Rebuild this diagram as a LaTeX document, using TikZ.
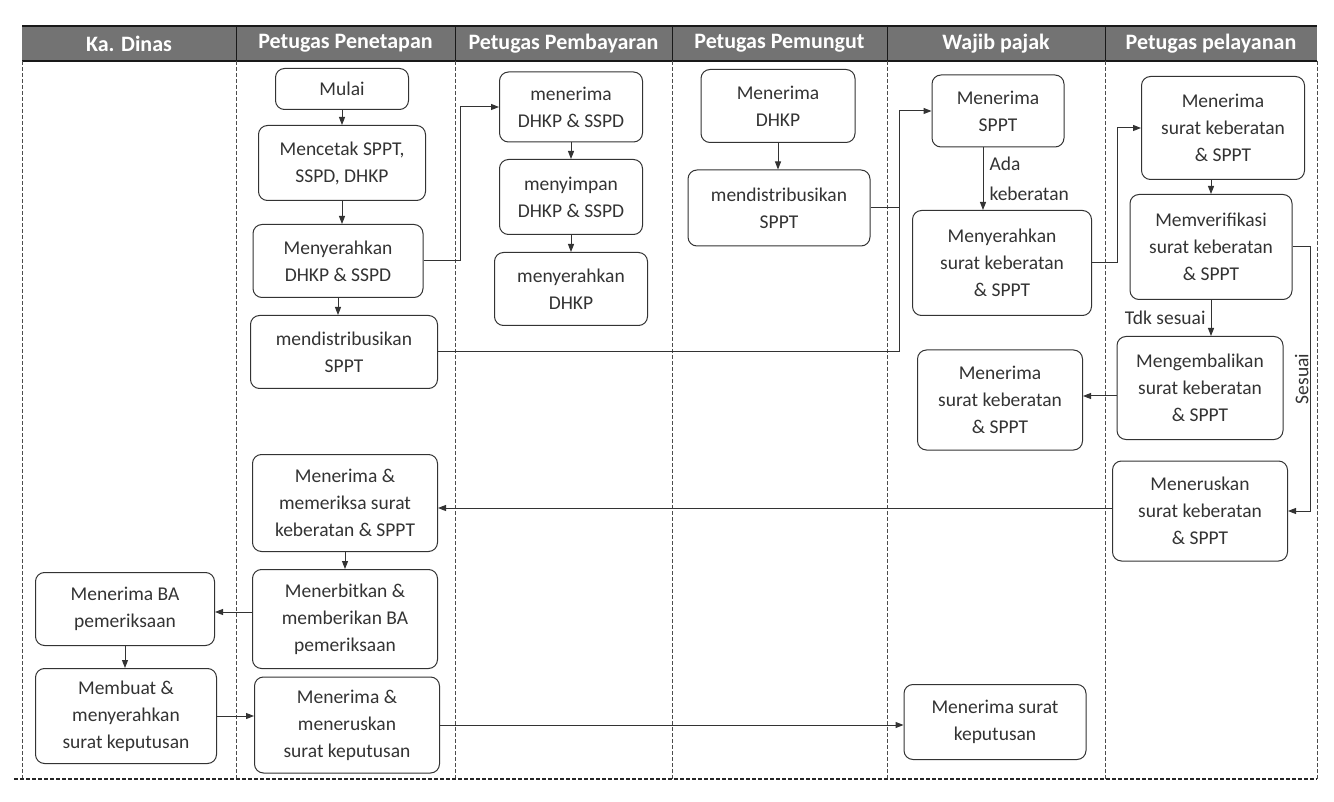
\documentclass[tikz,border=0pt]{standalone}
\usepackage{fontspec}
\setmainfont{Carlito}
\usetikzlibrary{arrows.meta}

\tikzset{%
        every box/.style={
            draw=black!80,
            rounded corners=9pt,
            align=center,
            font=\fontsize{19.5}{27}\selectfont
        },
        box/.style 2 args={
            every box,
            minimum width=#1pt,
            minimum height=#2pt
        },
        lane title/.style={
            text=white,
            font=\fontsize{22}{24}\selectfont\bfseries
        },
        flow label/.style={
            align=left,
            inner sep=1pt,
            font=\fontsize{19.5}{30}\selectfont
        },
        lane line/.style={
            black!70,
            line width=0.6pt,
            dash pattern=on 4pt off 2pt
        },
    }

\begin{document}
\begin{tikzpicture}[x=1pt, y=-1pt, >={Triangle[length=8pt,width=6pt]}, color=black!80, line width=1pt]

        \useasboundingbox (0,0) rectangle (1334,802);

        % header and lanes
        \fill[black!55] (22,26) rectangle (1317,61);
        \draw[black!90, line width=1.5pt] (22,26) -- (1317,26) (22,61) -- (1317,61);

        \foreach \x in {236,455,672,887,1105} {
            \draw[black!90] (\x,26) -- (\x,61);
            \draw[lane line] (\x,61) -- (\x,779);
        }
        \draw[lane line] (22,61) -- (22,779) (1317,61) -- (1317,779);
        \draw[lane line, black!85, line width=1.6pt] (14,779) -- (1317,779);

        \foreach \x/\l [count=\i] in {129/Ka. Dinas, 345.5/Petugas Penetapan,
            563.5/Petugas Pembayaran, 779.5/Petugas Pemungut,
            996/Wajib pajak, 1211/Petugas pelayanan}
        \node [lane title] (lane-\i) at (\x,43.5) {\l};

        % Ka. Dinas
        \node [box={179}{73}] (dinas-1) at (125,609) {Menerima BA\\pemeriksaan};
        \node [box={181}{95}] (dinas-2) at (126,716) {Membuat \&\\menyerahkan\\surat keputusan};

        % Petugas Penetapan
        \node [box={133}{41}] (penetapan-1) at (342,89) {Mulai};
        \node [box={167}{75}] (penetapan-2) at (342,163) {Mencetak SPPT,\\SSPD, DHKP};
        \node [box={170}{73}] (penetapan-3) at (338,261) {Menyerahkan\\DHKP \& SSPD};
        \node [box={187}{73}] (penetapan-4) at (344,352) {mendistribusikan\\SPPT};
        \node [box={185}{97}] (penetapan-5) at (345,503) {Menerima \&\\memeriksa surat\\keberatan \& SPPT};
        \node [box={185}{99}] (penetapan-6) at (345,619) {Menerbitkan \&\\memberikan BA\\pemeriksaan};
        \node [box={185}{96}] (penetapan-7) at (347,725) {Menerima \&\\meneruskan\\surat keputusan};

        % Petugas Pembayaran
        \node [box={143}{70}] (pembayaran-1) at (571,107) {menerima\\DHKP \& SSPD};
        \node [box={143}{75}] (pembayaran-2) at (571,197) {menyimpan\\DHKP \& SSPD};
        \node [box={153}{73}] (pembayaran-3) at (571,289) {menyerahkan\\DHKP};

        % Petugas Pemungut
        \node [box={154}{73}] (pemungut-1) at (778,106) {Menerima\\DHKP};
        \node [box={182}{76}] (pemungut-2) at (779,208) {mendistribusikan\\SPPT};

        % Wajib pajak
        \node [box={132}{72}] (wp-1) at (998,111) {Menerima\\SPPT};
        \node [box={179}{105}] (wp-2) at (1002,263) {Menyerahkan\\surat keberatan\\\& SPPT};
        \node [box={165}{100}] (wp-3) at (1000,400) {Menerima\\surat keberatan\\\& SPPT};
        \node [box={182}{75}] (wp-4) at (995,722) {Menerima surat\\keputusan};

        % Petugas pelayanan
        \node [box={163}{103}] (pelayanan-1) at (1223,128) {Menerima\\surat keberatan\\\& SPPT};
        \node [box={162}{105}] (pelayanan-2) at (1211,247) {Memverifikasi\\surat keberatan\\\& SPPT};
        \node [box={166}{103}] (pelayanan-3) at (1200,388) {Mengembalikan\\surat keberatan\\\& SPPT};
        \node [box={175}{100}] (pelayanan-4) at (1200,511) {Meneruskan\\surat keberatan\\\& SPPT};

        % flow inside a lane
        \foreach \a/\b in {penetapan-1/penetapan-2, penetapan-2/penetapan-3,
            penetapan-3/penetapan-4, penetapan-5/penetapan-6,
            pembayaran-1/pembayaran-2, pembayaran-2/pembayaran-3,
            pemungut-1/pemungut-2, dinas-1/dinas-2}
            \draw [->] (\a.south) -- (\a.south |- \b.north);
        \draw [->] (pelayanan-2.north |- pelayanan-1.south) -- (pelayanan-2.north);

        % flow between lanes
        \coordinate (bayar-in) at (460,107);
        \coordinate (sppt-in) at (899,111);
        \coordinate (keberatan-in) at (1117,128);
        \coordinate (sesuai-in) at (1310,511);

        \draw [->] (penetapan-3.east) -| (bayar-in) -- (pembayaran-1.west);
        \draw [->] (pemungut-2.east) -| (sppt-in) -- (wp-1.west);
        \draw (penetapan-4.east) -| (pemungut-2.east -| sppt-in);

        \draw [->] ([xshift=-15pt]wp-1.south) -- ([xshift=-15pt]wp-1.south |- wp-2.north)
            node [midway, right=5pt, flow label] {Ada\\keberatan};
        \draw [->] (wp-2.east) -| (keberatan-in) -- (pelayanan-1.west);

        \draw [->] (pelayanan-2.south) -- (pelayanan-2.south |- pelayanan-3.north)
            node [midway, left=4pt, flow label] {Tdk sesuai};
        \draw [->] (pelayanan-2.east) -| (sesuai-in)
            node [pos=0.75, anchor=south, rotate=90, flow label] {Sesuai} -- (pelayanan-4.east);

        \draw [->] ([yshift=-8pt]pelayanan-3.west) -- ([yshift=-8pt]pelayanan-3.west -| wp-3.east);
        \draw [->] ([yshift=3pt]pelayanan-4.west) -- ([yshift=3pt]pelayanan-4.west -| penetapan-5.east);
        \draw [->] ([yshift=7pt]penetapan-6.west) -- ([yshift=7pt]penetapan-6.west -| dinas-1.east);
        \draw [->] (dinas-2.east) -- (dinas-2.east -| penetapan-7.west);
        \draw [->] (penetapan-7.east) -- (penetapan-7.east -| wp-4.west);
    \end{tikzpicture}
\end{document}
